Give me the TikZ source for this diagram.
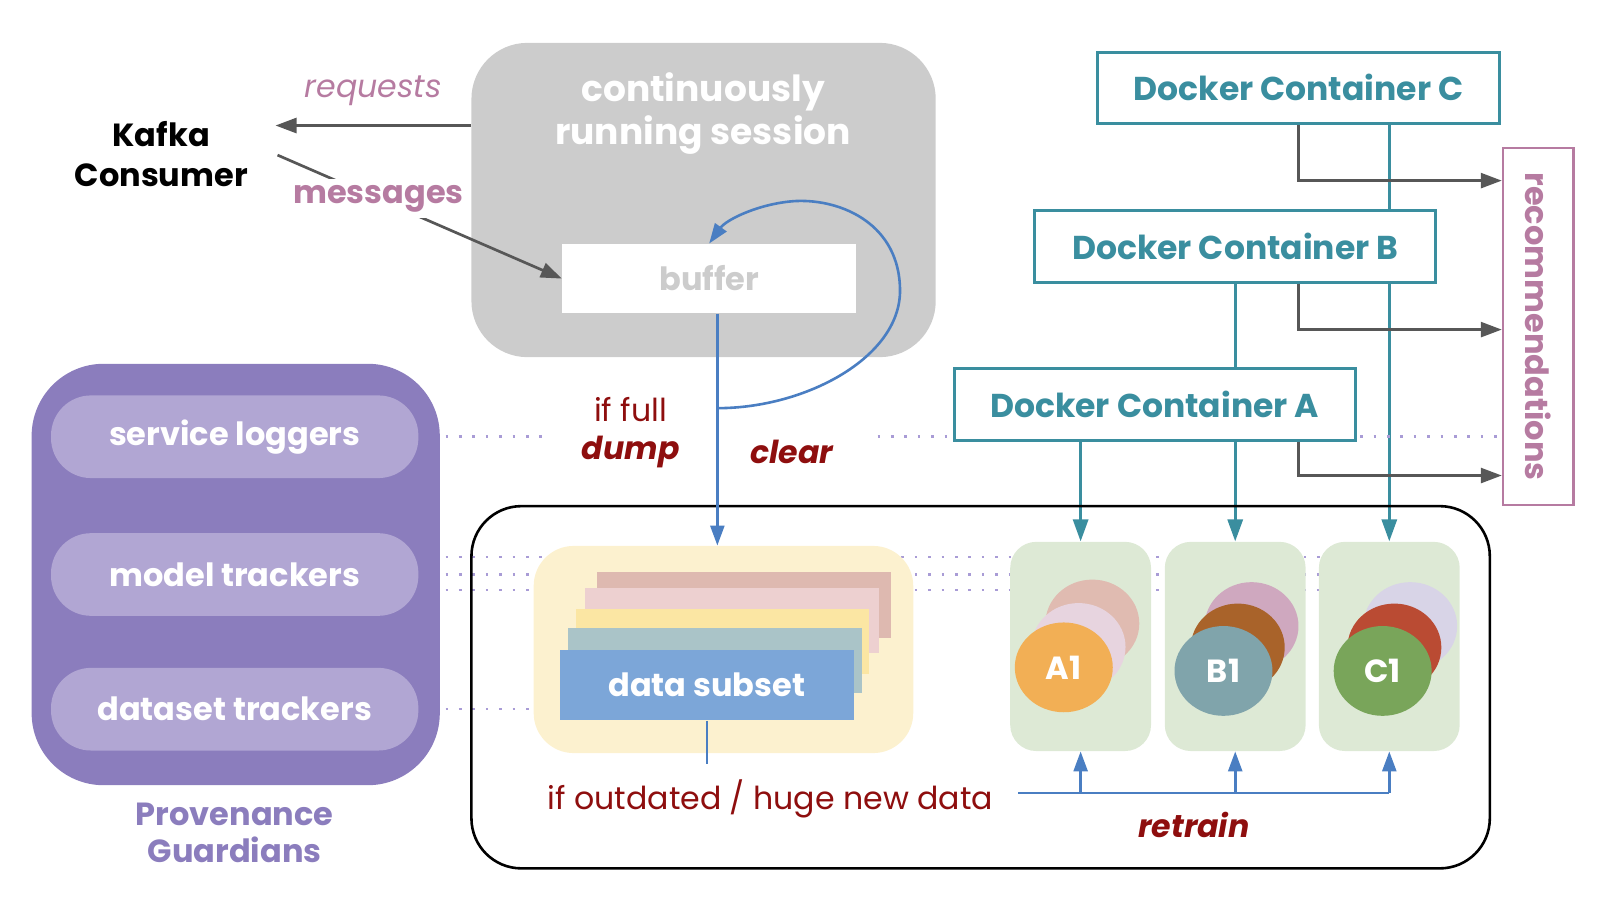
\documentclass[tikz,border=0pt]{standalone}
\usepackage{fontspec}
\setmainfont{Poppins}
\usetikzlibrary{shapes,arrows.meta,positioning,backgrounds}

\definecolor{guardpurple}{HTML}{8B7DBD}
\definecolor{pilllilac}{HTML}{B1A6D3}
\definecolor{dotlilac}{HTML}{A99CD6}
\definecolor{sessiongrey}{HTML}{CCCCCC}
\definecolor{dockteal}{HTML}{3A8E9F}
\definecolor{arrowgrey}{HTML}{575757}
\definecolor{recpink}{HTML}{B67BA1}
\definecolor{notered}{HTML}{8E0E0E}
\definecolor{flowblue}{HTML}{4A7EC2}
\definecolor{subsetyellow}{HTML}{FCF1CF}
\definecolor{modelgreen}{HTML}{DDE9D5}
\definecolor{cardrose}{HTML}{DEB9B0}
\definecolor{cardpink}{HTML}{EDD0D0}
\definecolor{cardsun}{HTML}{FBE6A3}
\definecolor{cardsage}{HTML}{AAC4C8}
\definecolor{cardblue}{HTML}{7CA6D8}
\definecolor{aback}{HTML}{E0BBB1}
\definecolor{amid}{HTML}{E7D4DF}
\definecolor{afront}{HTML}{F2AF55}
\definecolor{bback}{HTML}{CFA8BF}
\definecolor{bmid}{HTML}{A9632A}
\definecolor{bfront}{HTML}{80A4AB}
\definecolor{cback}{HTML}{D8D4E7}
\definecolor{cmid}{HTML}{BA4B33}
\definecolor{cfront}{HTML}{79A55A}

\newcommand{\px}{0.51pt}

\begin{document}
\begin{tikzpicture}[x=0.51pt, y=-0.51pt,
  every node/.style={inner sep=0pt, align=center, font=\fontsize{16}{20}\selectfont\bfseries},
  plain/.style={font=\fontsize{15.8}{19.5}\selectfont\mdseries},
  slanted/.style={font=\fontsize{15.8}{19.5}\selectfont\mdseries\itshape},
  boldslant/.style={font=\fontsize{15.8}{19.5}\selectfont\bfseries\itshape},
  docker/.style={draw=dockteal, line width=1.5pt, fill=white, text=dockteal, font=\fontsize{16.5}{20}\selectfont\bfseries, minimum width=393*\px, minimum height=70*\px},
  pill/.style={fill=pilllilac, rounded corners=20pt, minimum width=360*\px, minimum height=81*\px, text=white},
  card/.style={minimum width=288*\px, minimum height=64*\px},
  modelbox/.style={fill=modelgreen, rounded corners=13pt, minimum width=138*\px, minimum height=205*\px},
  model/.style={ellipse, minimum width=92*\px, minimum height=86*\px, text=white},
  greyarrow/.style={draw=arrowgrey, line width=1.35pt, -{Triangle[length=10.5pt,width=7.5pt]}},
  tealarrow/.style={draw=dockteal, line width=1.5pt, -{Triangle[length=11pt,width=7.5pt]}},
  flowline/.style={draw=flowblue, line width=1.3pt},
  flowarrow/.style={flowline, -{Triangle[length=10pt,width=7pt]}},
  dotline/.style={draw=dotlilac, line width=1.3pt, dash pattern=on 1.3pt off 5.4pt}
]
\useasboundingbox (0,0) rectangle (1568,885);

% Provenance guardians
\node[fill=guardpurple, rounded corners=36pt, minimum width=400*\px, minimum height=413*\px] (guard) at (231,563) {};
\node[pill] (svc) at (230,428) {service loggers};
\node[pill] (mtr) at (230,563) {model trackers};
\node[pill] (dset) at (230,695) {dataset trackers};
\node[text=guardpurple, font=\fontsize{16}{18.5}\selectfont\bfseries] (guardname) at (230,816) {Provenance\\Guardians};

% Session and buffer
\node[fill=sessiongrey, rounded corners=28pt, minimum width=455*\px, minimum height=308*\px] (session) at (689.5,196) {};
\node[text=white, font=\fontsize{18}{21.5}\selectfont\bfseries] (sessionname) at (689,111) {continuously\\running session};
\node[fill=white, minimum width=288*\px, minimum height=68*\px, text=sessiongrey] (buf) at (695,273) {buffer};

% Kafka
\node (kafka) at (158,151) {Kafka\\Consumer};
\coordinate (kafkain) at (270,123);
\coordinate (kafkaout) at (272,152);

% Docker containers and recommendations
\node[docker] (dockC) at (1272.5,86) {Docker Container C};
\node[docker] (dockB) at (1210.5,241.5) {Docker Container B};
\node[docker] (dockA) at (1131.5,396.5) {Docker Container A};
\node[draw=recpink, line width=1.3pt, text=recpink, rotate=-90, minimum width=350*\px, minimum height=69*\px] (rec) at (1507.5,320) {recommendations};

% Serving area
\node[draw, line width=1.3pt, rounded corners=25pt, minimum width=998*\px, minimum height=355*\px] (serve) at (961,673.5) {};
\node[fill=subsetyellow, rounded corners=20pt, minimum width=372*\px, minimum height=203*\px] (subsetbg) at (709,636.5) {};
\node[card, fill=cardrose] (card4) at (729,593) {};
\node[card, fill=cardpink] (card3) at (717.5,608) {};
\node[card, fill=cardsun] (card2) at (708,628.5) {};
\node[card, fill=cardsage] (card1) at (701,647.5) {};
\node[card, fill=cardblue, text=white, minimum height=69*\px] (subset) at (692.5,671.5) {data subset};

% Models
\foreach \m/\x in {A/1059, B/1210.5, C/1361.5}
  \node[modelbox] (mod\m) at (\x,633.5) {};
\node[model, fill=aback] at (1070.5,611) {};
\node[model, fill=amid] at (1057,634) {};
\node[model, fill=afront, minimum width=96*\px, minimum height=88*\px] (mA1) at (1042.5,654) {A1};
\node[model, fill=bback] at (1226.5,613.5) {};
\node[model, fill=bmid] at (1213,634.5) {};
\node[model, fill=bfront, minimum width=96*\px, minimum height=88*\px] (mB1) at (1199,657.5) {B1};
\node[model, fill=cback] at (1382,613.5) {};
\node[model, fill=cmid] at (1366.5,634.5) {};
\node[model, fill=cfront, minimum width=96*\px, minimum height=88*\px] (mC1) at (1355,657.5) {C1};

% Labels
\node[plain, text=notered] (iffull) at (618,401) {if full};
\node[boldslant, text=notered] (dump) at (618,443) {dump};
\node[boldslant, text=notered] (clear) at (776,443) {clear};
\node[plain, text=notered] (cond) at (755,783) {if outdated / huge new data};
\node[boldslant, text=notered] (retrain) at (1170,808) {retrain};
\coordinate (retrainstart) at (998,777);
\coordinate (split) at (703,400);

% Connectors behind the boxes
\begin{scope}[on background layer]
  \draw[tealarrow] (dockC.south -| modC.north) -- (modC.north);
  \draw[tealarrow] (dockB.south -| modB.north) -- (modB.north);
  \draw[tealarrow] (dockA.south -| modA.north) -- (modA.north);
  \draw[dotline] (svc.east) -- (535,428);
  \draw[dotline] (860,428) -- (rec.south |- svc.east);
  \foreach \yy in {546,563,578}
    \draw[dotline] (mtr.east |- 0,\yy) -- (modC.center |- 0,\yy);
  \draw[dotline] (dset.east) -- (subsetbg.west |- dset.east);
\end{scope}

% Kafka arrows
\draw[greyarrow] (session.west |- kafkain) -- node[midway, above=9pt, slanted, text=recpink] {requests} (kafkain);
\draw[greyarrow] (kafkaout) -- node[pos=0.355, fill=white, inner sep=3pt, text=recpink] {messages} (buf.west);

% Recommendations
\draw[greyarrow] (dockC.south) |- (rec.south |- 0,177);
\draw[greyarrow] (dockB.south -| dockC.south) |- (rec.south |- 0,323);
\draw[greyarrow] (dockA.south -| dockC.south) |- (rec.south |- 0,466);

% Buffer dump and clear
\draw[flowline] (buf.south -| split) -- (split);
\draw[flowarrow] (split) -- (subsetbg.north -| split);
\draw[flowarrow] (split) .. controls (790,400) and (882,350) .. (882,285)
  .. controls (882,220) and (825,195) .. (780,197)
  .. controls (745,199) and (712,215) .. (buf.north);

% Retrain
\draw[flowline, line width=1pt] (subset.south) -- ++(0,42);
\draw[flowline] (retrainstart) -- (retrainstart -| modC.south);
\foreach \m in {modA,modB,modC}
  \draw[flowarrow] (retrainstart -| \m.south) -- (\m.south);
\end{tikzpicture}
\end{document}
